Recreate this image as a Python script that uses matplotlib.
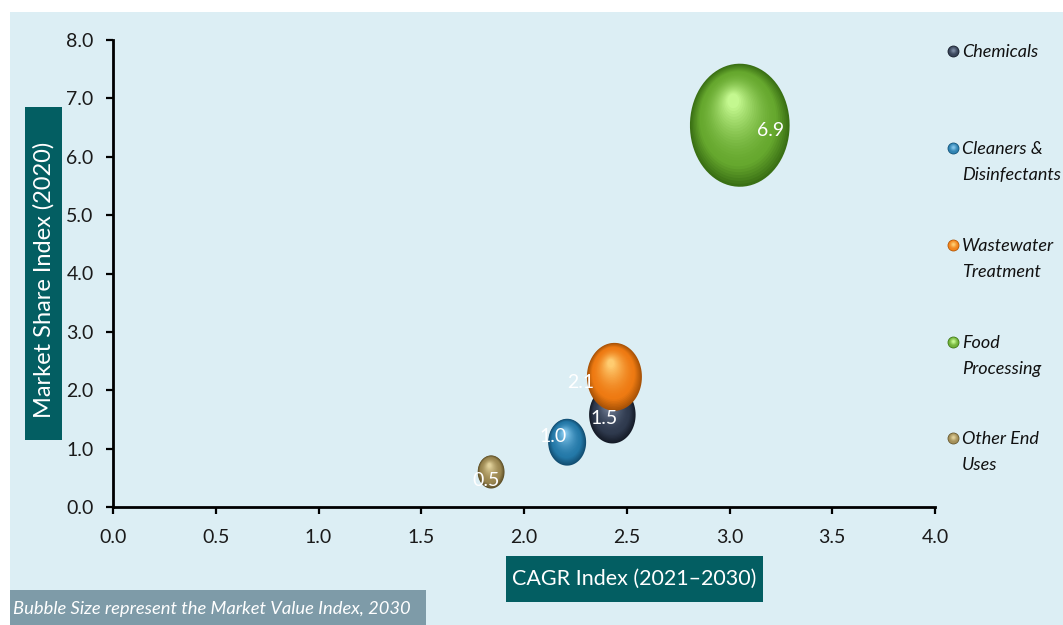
import matplotlib
matplotlib.use("Agg")
import matplotlib.pyplot as plt
import numpy as np
from matplotlib.path import Path
from matplotlib.patches import Rectangle
from matplotlib.transforms import offset_copy
from matplotlib.colors import to_rgb

# ---------------- data ----------------
categories = ['Chemicals', 'Cleaners & Disinfectants', 'Wastewater Treatment',
              'Food Processing', 'Other End Uses']
legend_labels = ['Chemicals', 'Cleaners &\nDisinfectants', 'Wastewater\nTreatment',
                 'Food\nProcessing', 'Other End\nUses']
cagr_index = [2.43, 2.21, 2.44, 3.05, 1.84]
share_index = [1.58, 1.11, 2.23, 6.54, 0.60]
market_value = [1.5, 1.0, 2.1, 6.9, 0.5]
x_ticks = [0.0, 0.5, 1.0, 1.5, 2.0, 2.5, 3.0, 3.5, 4.0]
y_ticks = [0.0, 1.0, 2.0, 3.0, 4.0, 5.0, 6.0, 7.0, 8.0]

base_colors = ['#2F3A4E', '#2479A8', '#EE7A12', '#66A82E', '#9A8650']
rim_colors = ['#161C28', '#124E72', '#A85206', '#3A7014', '#5E5028']
hi_colors = ['#7A88A0', '#80C4EA', '#FFCC70', '#C4F890', '#E0D09A']
label_offsets = [(-6, -3), (-10, 4), (-24, -4), (22, -4), (-4, -6)]

FONT = 'Lato'
BG = '#DCEEF4'
TEAL = '#035E62'

fig = plt.figure(figsize=(10.63, 6.25), dpi=100, facecolor='white')
W, H = 1063, 625
fig.patches.append(Rectangle((10 / W, 0), 1, (H - 12) / H, transform=fig.transFigure,
                             facecolor=BG, edgecolor='none', zorder=-10))

ax = fig.add_axes([113 / W, (H - 507) / H, (935 - 113) / W, (507 - 40) / H])
ax.set_facecolor('none')
ax.set_xlim(0, 4)
ax.set_ylim(0, 8)
ax.set_xticks(x_ticks)
ax.set_yticks(y_ticks)
ax.set_xticklabels([f'{v:.1f}' for v in x_ticks], fontfamily=FONT, fontsize=14, color='#1a1a1a')
ax.set_yticklabels([f'{v:.1f}' for v in y_ticks], fontfamily=FONT, fontsize=14, color='#1a1a1a')
for s in ['top', 'right']:
    ax.spines[s].set_visible(False)
for s in ['left', 'bottom']:
    ax.spines[s].set_linewidth(2)
    ax.spines[s].set_color('black')
ax.tick_params(axis='y', direction='out', length=5, width=1.6, pad=9)
ax.tick_params(axis='x', direction='out', length=5, width=1.6, pad=11)

# elliptical marker (taller than wide)
theta = np.linspace(0, 2 * np.pi, 80)
ell = Path(np.column_stack([0.81 * np.cos(theta), np.sin(theta)]), closed=True)

K = 1138.0
n = 28


def blend(c1, c2, t):
    a, b = np.array(to_rgb(c1)), np.array(to_rgb(c2))
    return tuple(a + (b - a) * t)


for i in range(len(categories)):
    s_full = market_value[i] * K
    Hpt = np.sqrt(s_full)
    R = Hpt / 2
    z = 3 + i
    for j in range(n):
        t = j / (n - 1)
        f = 1 - 0.88 * t
        if t < 0.25:
            col = blend(rim_colors[i], base_colors[i], t / 0.25)
        else:
            col = blend(base_colors[i], hi_colors[i], ((t - 0.25) / 0.75) ** 1.6)
        dx = -(1 - f) * R * 0.12
        dy = (1 - f) * R * 0.45
        tr = offset_copy(ax.transData, fig=fig, x=dx, y=dy, units='points')
        ax.scatter([cagr_index[i]], [share_index[i]], s=s_full * f * f, marker=ell,
                   color=col, edgecolors='none', transform=tr, zorder=z, clip_on=False)

for i in range(len(categories)):
    ox, oy = label_offsets[i]
    ax.annotate(f'{market_value[i]:.1f}', (cagr_index[i], share_index[i]),
                xytext=(ox, oy), textcoords='offset points', ha='center', va='center',
                color='white', fontsize=14, fontfamily=FONT, zorder=20)

# axis titles in teal boxes
fig.patches.append(Rectangle((506 / W, (H - 602) / H), (763 - 506) / W, 46 / H,
                             transform=fig.transFigure, facecolor=TEAL, edgecolor='none'))
fig.text((506 + 763) / 2 / W, (H - 579) / H, 'CAGR Index (2021\u20132030)', color='white',
         fontsize=15.5, fontfamily=FONT, ha='center', va='center')
fig.patches.append(Rectangle((25 / W, (H - 440) / H), 37 / W, (440 - 107) / H,
                             transform=fig.transFigure, facecolor=TEAL, edgecolor='none'))
fig.text(44 / W, (H - 280) / H, 'Market Share Index (2020)', color='white', rotation=90,
         fontsize=17, fontfamily=FONT, ha='center', va='center')

# footnote
fig.patches.append(Rectangle((10 / W, 0), (426 - 10) / W, 35 / H,
                             transform=fig.transFigure, facecolor='#7E9BA8', edgecolor='none'))
fig.text(13 / W, 16 / H, 'Bubble Size represent the Market Value Index, 2030', color='white',
         fontsize=13.2, fontstyle='italic', fontfamily=FONT, ha='left', va='center')

# legend (manual)
leg_y = [51, 148, 245, 342, 438]
for i, lab in enumerate(legend_labels):
    yy = (H - leg_y[i]) / H
    for j in range(8):
        t = j / 7
        f = 1 - 0.8 * t
        col = blend(base_colors[i], hi_colors[i], t ** 1.5) if t > 0 else rim_colors[i]
        fig.add_artist(plt.Line2D([953 / W], [yy + (1 - f) * 1.5 / H],
                                  marker='o', markersize=8.5 * f, color=col,
                                  markeredgewidth=0, transform=fig.transFigure))
    fig.text(962 / W, yy + 7 / H, lab, fontsize=13, fontstyle='italic', fontfamily=FONT,
             color='#111111', ha='left', va='top', linespacing=1.78)

fig.savefig('out.png', dpi=100, facecolor='white')
